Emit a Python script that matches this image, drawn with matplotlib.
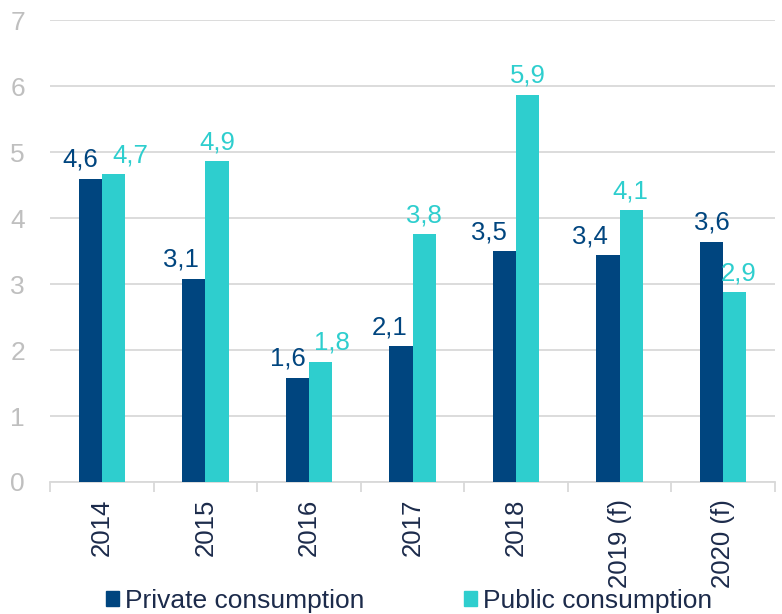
import matplotlib
matplotlib.use("Agg")
import matplotlib.pyplot as plt
from matplotlib.patches import Rectangle
import numpy as np

categories = ["2014", "2015", "2016", "2017", "2018", "2019 (f)", "2020 (f)"]
private = [4.6, 3.08, 1.58, 2.06, 3.5, 3.44, 3.64]
public = [4.67, 4.86, 1.82, 3.76, 5.87, 4.12, 2.88]
series_names = ["Private consumption", "Public consumption"]

c_priv = "#00457F"
c_pub = "#2ECECE"
c_text = "#1C2B4B"
c_grid = "#D9D9D9"
c_ytick = "#BFBFBF"

# horizontal label nudges (points) to avoid overlapping labels
priv_dx = [-7, -9, -7, -8, -11, -13, 0]
pub_dx = [12, 0, 8, 0, 0, -1, 3]

plt.rcParams['font.family'] = ['Liberation Sans', 'DejaVu Sans']
fig = plt.figure(figsize=(7.82, 6.14), dpi=100)
ax = fig.add_axes([0.064, 0.215, 0.927, 0.752])

x = np.arange(len(categories))
w = 0.225
b1 = ax.bar(x - w / 2, private, w, color=c_priv, zorder=3)
b2 = ax.bar(x + w / 2, public, w, color=c_pub, zorder=3)

for i, (bar, v) in enumerate(zip(b1, private)):
    ax.annotate(f"{v:.1f}".replace(".", ","), (bar.get_x() + bar.get_width() / 2, v),
                xytext=(priv_dx[i], 5), textcoords="offset points",
                ha="center", va="bottom", fontsize=18.5, color=c_priv)
for i, (bar, v) in enumerate(zip(b2, public)):
    ax.annotate(f"{v:.1f}".replace(".", ","), (bar.get_x() + bar.get_width() / 2, v),
                xytext=(pub_dx[i], 5), textcoords="offset points",
                ha="center", va="bottom", fontsize=18.5, color=c_pub)

ax.set_xlim(-0.5, len(categories) - 0.5)
ax.set_ylim(0, 7)
ax.set_yticks(range(0, 8))
ax.yaxis.grid(True, color=c_grid, linewidth=1.3, zorder=0)
ax.set_axisbelow(True)
for s in ["top", "right", "left"]:
    ax.spines[s].set_visible(False)
ax.spines["bottom"].set_color(c_grid)
ax.spines["bottom"].set_linewidth(1.3)

ax.set_xticks(x)
ax.set_xticklabels(categories, rotation=90, fontsize=18.5, color=c_text)
ax.tick_params(axis="x", which="major", length=0, pad=12)
ax.set_xticks(np.arange(-0.5, len(categories) - 0.4, 1), minor=True)
ax.tick_params(axis="x", which="minor", length=7, color=c_grid, width=1.3)
ax.tick_params(axis="y", length=0, labelsize=19, labelcolor=c_ytick, pad=18)

handles = [Rectangle((0, 0), 1, 1, color=c_priv), Rectangle((0, 0), 1, 1, color=c_pub)]
leg = fig.legend(handles, series_names, loc="lower center", bbox_to_anchor=(0.523, -0.037),
                 ncol=2, frameon=False, fontsize=19, handlelength=0.5, handleheight=0.5,
                 handletextpad=0.22, columnspacing=3.8)
for t in leg.get_texts():
    t.set_color(c_text)

fig.savefig("out.png", dpi=100)
